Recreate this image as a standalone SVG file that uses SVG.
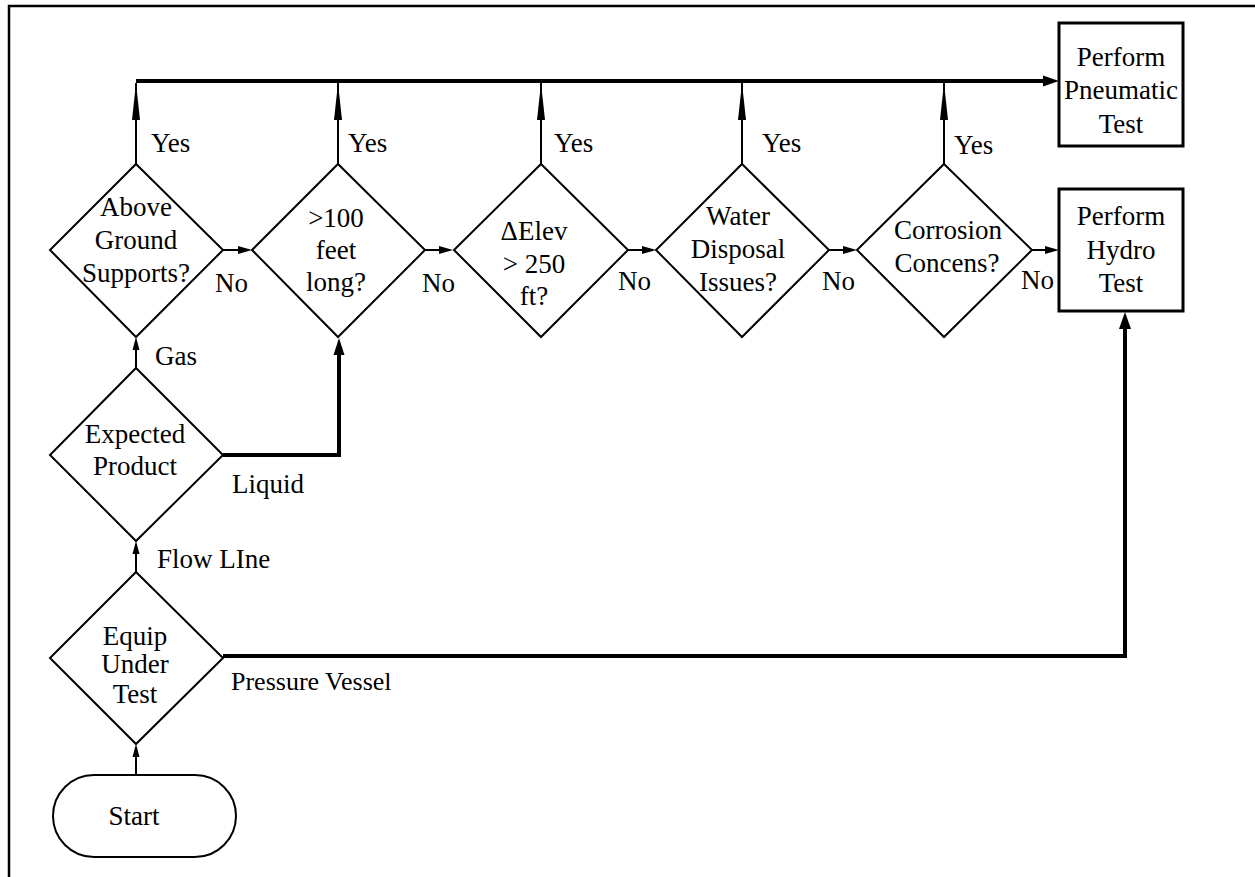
<svg xmlns="http://www.w3.org/2000/svg" width="1255" height="877" viewBox="0 0 1255 877">
<style>
text{font-family:"Liberation Serif","Times New Roman",serif;font-size:27px;fill:#000}
.c{text-anchor:middle}
.shape{fill:#fff;stroke:#000;stroke-width:2}
.box{fill:#fff;stroke:#000;stroke-width:3}
.thin{fill:none;stroke:#000;stroke-width:2}
.thick{fill:none;stroke:#000;stroke-width:4}
.ah{fill:#000;stroke:none}
</style>
<rect width="1255" height="877" fill="#fff"/>
<path d="M9,877 V6 H1255" fill="none" stroke="#000" stroke-width="2.5"/>
<g id="connectors">
  <path class="thin" d="M136,164 V83"/><polygon class="ah" points="136,83 132,120 140,120"/>
  <path class="thin" d="M338,164 V83"/><polygon class="ah" points="338,83 334,120 342,120"/>
  <path class="thin" d="M541,164 V83"/><polygon class="ah" points="541,83 537,120 545,120"/>
  <path class="thin" d="M742,164 V83"/><polygon class="ah" points="742,83 738,120 746,120"/>
  <path class="thin" d="M944,164 V83"/><polygon class="ah" points="944,83 940,120 948,120"/>
  <path class="thick" d="M136,81 H1045"/><polygon class="ah" points="1059,81 1043,75.5 1043,86.5"/>
  <path class="thin" d="M223,250 H240"/><polygon class="ah" points="252,250 238,246 238,254"/>
  <path class="thin" d="M425,250 H441"/><polygon class="ah" points="453,250 439,246 439,254"/>
  <path class="thin" d="M628,250 H644"/><polygon class="ah" points="656,250 642,246 642,254"/>
  <path class="thin" d="M829,250 H845"/><polygon class="ah" points="857,250 843,246 843,254"/>
  <path class="thin" d="M1032,250 H1047"/><polygon class="ah" points="1059,250 1045,246 1045,254"/>
  <path class="thin" d="M136,368 V347"/><polygon class="ah" points="136,337 132.5,350 139.5,350"/>
  <path class="thin" d="M136,572 V551"/><polygon class="ah" points="136,541 132.5,554 139.5,554"/>
  <path class="thin" d="M136,775 V754"/><polygon class="ah" points="136,744 132.5,757 139.5,757"/>
  <path class="thick" d="M223,455 H339 V352"/><polygon class="ah" points="339,338 333.5,355 344.5,355"/>
  <path class="thick" d="M223,656 H1125 V326"/><polygon class="ah" points="1125,312 1119,329 1131,329"/>
</g>
<g id="start">
  <rect class="shape" x="53" y="775" width="183" height="82" rx="41"/>
  <text class="c" x="134" y="825">Start</text>
</g>
<g id="equip">
  <polygon class="shape" points="136,572 223,658 136,744 50,658"/>
  <text class="c" x="135" y="645">Equip</text>
  <text class="c" x="135" y="673">Under</text>
  <text class="c" x="135" y="703">Test</text>
</g>
<g id="expected">
  <polygon class="shape" points="136,368 223,455 136,541 50,455"/>
  <text class="c" x="135" y="443">Expected</text>
  <text class="c" x="135" y="475">Product</text>
</g>
<g id="above">
  <polygon class="shape" points="136,164 223,250 136,337 50,250"/>
  <text class="c" x="136" y="216">Above</text>
  <text class="c" x="136" y="249">Ground</text>
  <text class="c" x="136" y="282">Supports?</text>
</g>
<g id="long">
  <polygon class="shape" points="338,164 425,250 338,337 252,250"/>
  <text class="c" x="336" y="227">&gt;100</text>
  <text class="c" x="336" y="259">feet</text>
  <text class="c" x="336" y="291">long?</text>
</g>
<g id="elev">
  <polygon class="shape" points="541,164 628,250 541,337 454,250"/>
  <text class="c" x="534" y="240">ΔElev</text>
  <text class="c" x="534" y="273">&gt; 250</text>
  <text class="c" x="534" y="305">ft?</text>
</g>
<g id="water">
  <polygon class="shape" points="742,164 829,250 742,337 656,250"/>
  <text class="c" x="738" y="225">Water</text>
  <text class="c" x="738" y="258">Disposal</text>
  <text class="c" x="738" y="291">Issues?</text>
</g>
<g id="corrosion">
  <polygon class="shape" points="944,164 1032,250 944,337 857,250"/>
  <text class="c" x="948" y="239">Corrosion</text>
  <text class="c" x="947" y="272">Concens?</text>
</g>
<g id="pneumatic">
  <rect class="box" x="1059" y="23" width="124" height="123"/>
  <text class="c" x="1121" y="66">Perform</text>
  <text class="c" x="1121" y="99">Pneumatic</text>
  <text class="c" x="1121" y="133">Test</text>
</g>
<g id="hydro">
  <rect class="box" x="1059" y="189" width="124" height="122"/>
  <text class="c" x="1121" y="225">Perform</text>
  <text class="c" x="1121" y="259">Hydro</text>
  <text class="c" x="1121" y="292">Test</text>
</g>
<g id="labels">
  <text x="151" y="152">Yes</text>
  <text x="348" y="152">Yes</text>
  <text x="554" y="152">Yes</text>
  <text x="762" y="152">Yes</text>
  <text x="954" y="154">Yes</text>
  <text x="215" y="292">No</text>
  <text x="422" y="292">No</text>
  <text x="618" y="290">No</text>
  <text x="822" y="290">No</text>
  <text x="1021" y="289">No</text>
  <text x="155" y="365">Gas</text>
  <text x="232" y="493">Liquid</text>
  <text x="157" y="568">Flow LIne</text>
  <text x="231" y="690" style="font-size:26px">Pressure Vessel</text>
</g>
</svg>
